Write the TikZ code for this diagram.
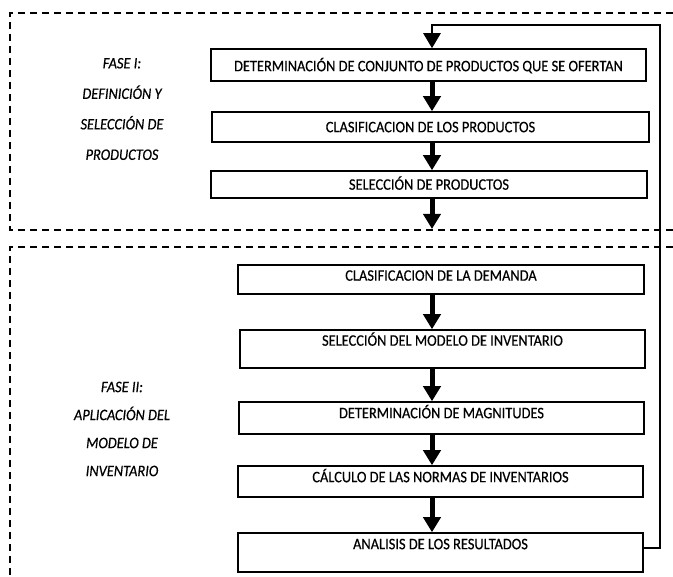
\documentclass[tikz,border=0pt]{standalone}
\usepackage{fontspec}
\setmainfont{Carlito}[FakeStretch=0.9,FakeBold=0.5]
\usetikzlibrary{arrows.meta}

\begin{document}
\begin{tikzpicture}[x=1pt,y=-1pt,
  caja/.style={draw,line width=1.5pt,inner sep=0pt,font=\fontsize{16}{18}\selectfont},
  flecha/.style={line width=5pt,-{Triangle[width=17pt,length=15pt]}},
  vuelta/.style={line width=2.5pt,line join=miter,-{Triangle[width=17pt,length=15pt]}},
  discontinua/.style={line width=1.4pt,dash pattern=on 7pt off 5pt},
  fase/.style={align=center,font=\fontsize{16}{#1}\selectfont\itshape}]
\useasboundingbox (0,0) rectangle (673,577);
\coordinate (eje) at (432,0);
\coordinate (R) at (660,25);
\coordinate (fin) at (432,229);
\draw[discontinua] (673,13) -- (10,13) -- (10,230) -- (673,230);
\draw[discontinua] (673,247) -- (10,247) -- (10,577);
\node[fase=30.5] (F1) at (122,109) {FASE I:\\DEFINICIÓN Y\\SELECCIÓN DE\\PRODUCTOS};
\node[fase=28] (F2) at (122,429) {FASE II:\\APLICACIÓN DEL\\MODELO DE\\INVENTARIO};
\node[caja,minimum width=435pt,minimum height=32pt,text height=22.2pt,text depth=9.8pt] (A) at (428.5,65) {DETERMINACIÓN DE CONJUNTO DE PRODUCTOS QUE SE OFERTAN};
\node[caja,minimum width=437pt,minimum height=30pt,text height=20.2pt,text depth=9.8pt] (B) at (430.5,127) {CLASIFICACION DE LOS PRODUCTOS};
\node[caja,minimum width=436pt,minimum height=27pt,text height=18.7pt,text depth=8.3pt] (C) at (429,184.5) {SELECCIÓN DE PRODUCTOS};
\node[caja,minimum width=406pt,minimum height=29pt,text height=15.7pt,text depth=13.3pt] (D) at (441,279.5) {CLASIFICACION DE LA DEMANDA};
\node[caja,minimum width=405pt,minimum height=38pt,text height=15.7pt,text depth=22.3pt] (E) at (442.5,349) {SELECCIÓN DEL MODELO DE INVENTARIO};
\node[caja,minimum width=405pt,minimum height=32pt,text height=16.2pt,text depth=15.8pt] (G) at (441.5,418) {DETERMINACIÓN DE MAGNITUDES};
\node[caja,minimum width=405pt,minimum height=31pt,text height=16.2pt,text depth=14.8pt] (H) at (440.5,481.5) {CÁLCULO DE LAS NORMAS DE INVENTARIOS};
\node[caja,minimum width=405pt,minimum height=39pt,text height=16.2pt,text depth=22.8pt] (I) at (440.5,552.5) {ANALISIS DE LOS RESULTADOS};
\draw[flecha] (A.south -| eje) -- (B.north -| eje);
\draw[flecha] (B.south -| eje) -- (C.north -| eje);
\draw[flecha] (C.south -| eje) -- (fin);
\draw[flecha] (D.south -| eje) -- (E.north -| eje);
\draw[flecha] (E.south -| eje) -- (G.north -| eje);
\draw[flecha] (G.south -| eje) -- (H.north -| eje);
\draw[flecha] (H.south -| eje) -- (I.north -| eje);
\draw[vuelta] ([yshift=4.5pt]I.east) -| (R) -| (A.north -| eje);
\end{tikzpicture}
\end{document}
